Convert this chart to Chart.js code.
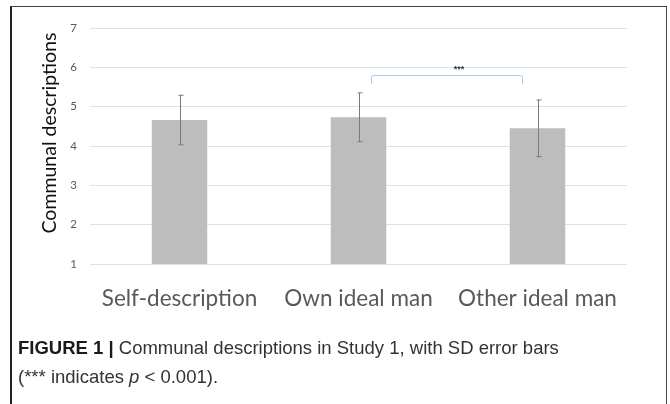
<!DOCTYPE html>
<html>
<head>
<meta charset="utf-8">
<script src="https://cdn.jsdelivr.net/npm/chart.js@4/dist/chart.umd.min.js"></script>
<style>
  html, body { margin: 0; padding: 0; background: #fff; }
  #wrap { position: relative; width: 670px; height: 404px; overflow: hidden; }
  #frame { position: absolute; left: 10px; top: 6px; width: 657px; height: 420px;
           border: 1px solid #444; border-left: 2px solid #222; box-sizing: border-box; }
  #c { position: absolute; left: 0; top: 0; }
  #caption { position: absolute; left: 18px; top: 333px; width: 645px;
             font-family: "Liberation Sans", Arial, sans-serif; font-size: 18.5px; line-height: 29px; color: #333; }
  #caption b { color: #1a1a1a; }
</style>
</head>
<body>
<div id="wrap">
  <div id="frame"></div>
  <canvas id="c" width="670" height="404"></canvas>
  <div id="caption"><b>FIGURE 1 |</b> Communal descriptions in Study 1, with SD error bars<br>(*** indicates <i>p</i> &lt; 0.001).</div>
</div>
<script>
// ---- data ----
const categories = ['Self-description', 'Own ideal man', 'Other ideal man'];
const means = [4.66, 4.73, 4.45];
const sds = [0.63, 0.62, 0.72];
const yTicks = [1, 2, 3, 4, 5, 6, 7];
const yTitle = 'Communal descriptions';
// significance bracket between "Own ideal man" and "Other ideal man"
const sigFrom = 1, sigTo = 2, sigLabel = '***', sigTop = 5.8, sigBottom = 5.58;

const errorBarPlugin = {
  id: 'errorBars',
  afterDatasetsDraw(chart) {
    const ctx = chart.ctx, x = chart.scales.x, y = chart.scales.y;
    ctx.save();
    ctx.strokeStyle = '#7a7a7a';
    ctx.lineWidth = 1;
    means.forEach((m, i) => {
      const px = Math.round(x.getPixelForValue(i)) + 0.5;
      const top = y.getPixelForValue(m + sds[i]);
      const bot = y.getPixelForValue(m - sds[i]);
      ctx.beginPath();
      ctx.moveTo(px, top); ctx.lineTo(px, bot);
      ctx.moveTo(px - 2, top); ctx.lineTo(px + 3, top);
      ctx.moveTo(px - 2, bot); ctx.lineTo(px + 3, bot);
      ctx.stroke();
    });
    // bracket
    const xa = x.getPixelForValue(sigFrom), xb = x.getPixelForValue(sigTo);
    const step = xb - xa;
    const l = Math.round(xa + step * 0.07) + 0.5, r = Math.round(xb - step * 0.085) + 0.5;
    const t = Math.round(y.getPixelForValue(sigTop)) + 0.5, b = y.getPixelForValue(sigBottom);
    ctx.strokeStyle = '#a9cbe9';
    ctx.beginPath();
    ctx.moveTo(l, b); ctx.lineTo(l, t + 2);
    ctx.quadraticCurveTo(l, t, l + 2, t);
    ctx.lineTo(r - 2, t);
    ctx.quadraticCurveTo(r, t, r, t + 2);
    ctx.lineTo(r, b);
    ctx.stroke();
    ctx.fillStyle = '#333';
    ctx.font = 'bold 9px "Liberation Sans", Arial, sans-serif';
    ctx.textAlign = 'center';
    ctx.textBaseline = 'middle';
    ctx.fillText(sigLabel, (l + r) / 2 + 12, t - 6);
    // y-axis title
    ctx.save();
    ctx.translate(50, (y.top + y.bottom) / 2 - 13);
    ctx.rotate(-Math.PI / 2);
    ctx.fillStyle = '#111';
    ctx.font = '19.5px Lato, sans-serif';
    ctx.fillText(yTitle, 0, 0);
    ctx.restore();
    ctx.restore();
  }
};

new Chart(document.getElementById('c'), {
  type: 'bar',
  data: {
    labels: categories,
    datasets: [{
      data: means,
      backgroundColor: '#bdbdbd',
      borderWidth: 0,
      barPercentage: 0.31,
      categoryPercentage: 1
    }]
  },
  options: {
    responsive: false,
    animation: false,
    layout: { padding: { top: 28, right: 43, left: 0, bottom: 0 } },
    plugins: { legend: { display: false }, tooltip: { enabled: false } },
    scales: {
      x: {
        grid: { display: false },
        border: { display: false },
        ticks: { color: '#595959', padding: 13, font: { family: 'Lato', size: 22.5 } },
        afterFit(s) { s.height = 140; }
      },
      y: {
        min: 1, max: 7,
        afterBuildTicks(s) { s.ticks = yTicks.map(v => ({ value: v })); },
        grid: { color: '#e0e0e0', drawTicks: false },
        border: { display: false },
        ticks: { color: '#595959', padding: 13, font: { family: 'Lato', size: 11.5 } },
        afterFit(s) { s.width = 90; }
      }
    }
  },
  plugins: [errorBarPlugin]
});
</script>
</body>
</html>
